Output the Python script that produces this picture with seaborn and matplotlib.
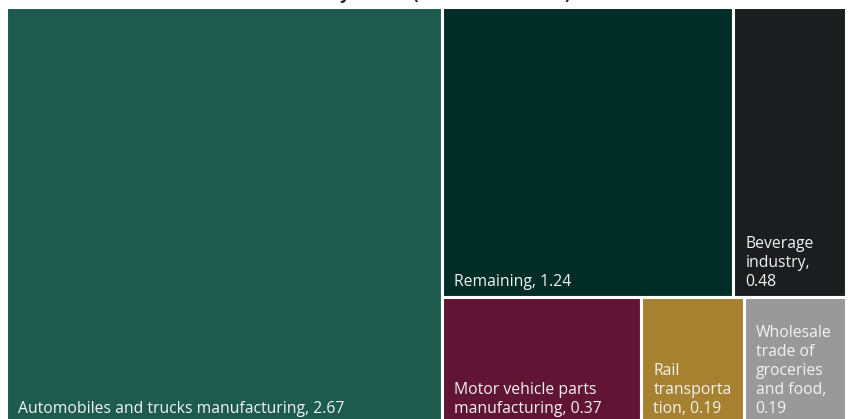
import matplotlib
matplotlib.use("Agg")
import matplotlib.pyplot as plt
from matplotlib.patches import Rectangle
from matplotlib.font_manager import FontProperties
import seaborn as sns

# -----------------------------
# Data
# -----------------------------
sectors = [
    "Automobiles and trucks manufacturing",
    "Remaining",
    "Beverage industry",
    "Motor vehicle parts manufacturing",
    "Rail transportation",
    "Wholesale trade of groceries and food",
]
values = [2.67, 1.24, 0.48, 0.37, 0.19, 0.19]
colors = ["#1e5b4f", "#002e27", "#1b1d1f", "#611434", "#a6812f", "#999999"]
title = "Emissions by sector (in million tonnes)"

W, H = 840, 417      # layout box, in pixels
RATIO = 1.5          # squarify target ratio
PAD = 11             # inner text padding


def squarify(vals, x0, y0, x1, y1, ratio=RATIO):
    # d3-style squarified treemap
    rects = [None] * len(vals)
    total = sum(vals)
    i0 = i1 = 0
    n = len(vals)
    while i0 < n:
        dx, dy = x1 - x0, y1 - y0
        s = vals[i1]
        i1 += 1
        vmin = vmax = s
        alpha = max(dy / dx, dx / dy) / (total * ratio)
        beta = s * s * alpha
        min_ratio = max(vmax / beta, beta / vmin)
        while i1 < n:
            v = vals[i1]
            s += v
            vmin, vmax = min(vmin, v), max(vmax, v)
            beta = s * s * alpha
            new_ratio = max(vmax / beta, beta / vmin)
            if new_ratio > min_ratio:
                s -= v
                break
            min_ratio = new_ratio
            i1 += 1
        idx = list(range(i0, i1))
        if dx < dy:
            # row across the top
            h = dy * s / total
            cx = x0
            for k in idx:
                w = dx * vals[k] / s
                rects[k] = (cx, y0, cx + w, y0 + h)
                cx += w
            y0 += h
        else:
            # column on the left
            w = dx * s / total
            cy = y0
            for k in idx:
                h = dy * vals[k] / s
                rects[k] = (x0, cy, x0 + w, cy + h)
                cy += h
            x0 += w
        total -= s
        i0 = i1
    return rects


sns.set_theme(style="white")
plt.rcParams["font.family"] = ["Open Sans", "DejaVu Sans"]

fig = plt.figure(figsize=(8.48, 4.19), dpi=100)
ax = fig.add_axes([6 / 848, -5 / 419, W / 848, H / 419])
ax.set_xlim(0, W)
ax.set_ylim(H, 0)
ax.axis("off")

font = FontProperties(family=["Open Sans", "DejaVu Sans"], size=11.3)
renderer = fig.canvas.get_renderer()


def text_w(s):
    w, _, _ = renderer.get_text_width_height_descent(s, font, ismath=False)
    return w


def wrap(label, max_w):
    lines, cur = [], ""
    for word in label.split(" "):
        trial = word if not cur else cur + " " + word
        if text_w(trial) <= max_w:
            cur = trial
            continue
        if cur:
            lines.append(cur)
        cur = ""
        # word longer than the tile: break it
        while text_w(word) > max_w:
            cut = len(word)
            while cut > 1 and text_w(word[:cut]) > max_w:
                cut -= 1
            lines.append(word[:cut])
            word = word[cut:]
        cur = word
    if cur:
        lines.append(cur)
    return "\n".join(lines)


rects = squarify(values, 0, 0, W, H)
for name, val, col, (x0, y0, x1, y1) in zip(sectors, values, colors, rects):
    ax.add_patch(Rectangle((x0, y0), x1 - x0, y1 - y0, facecolor=col,
                           edgecolor="white", linewidth=2.2))
    label = wrap(f"{name}, {val}", (x1 - x0) - 2 * PAD + 2)
    ax.text(x0 + PAD + 1, y1 - 7, label, color="#f2f2f2", fontproperties=font,
            ha="left", va="bottom", linespacing=1.25)

# title sits mostly above the canvas, only its descenders show
fig.text(0.478, 1 + 1.5 / 419, title, ha="center", va="baseline",
         fontsize=12.5, fontweight="bold", color="#222222")

fig.savefig("out.png", dpi=100)
